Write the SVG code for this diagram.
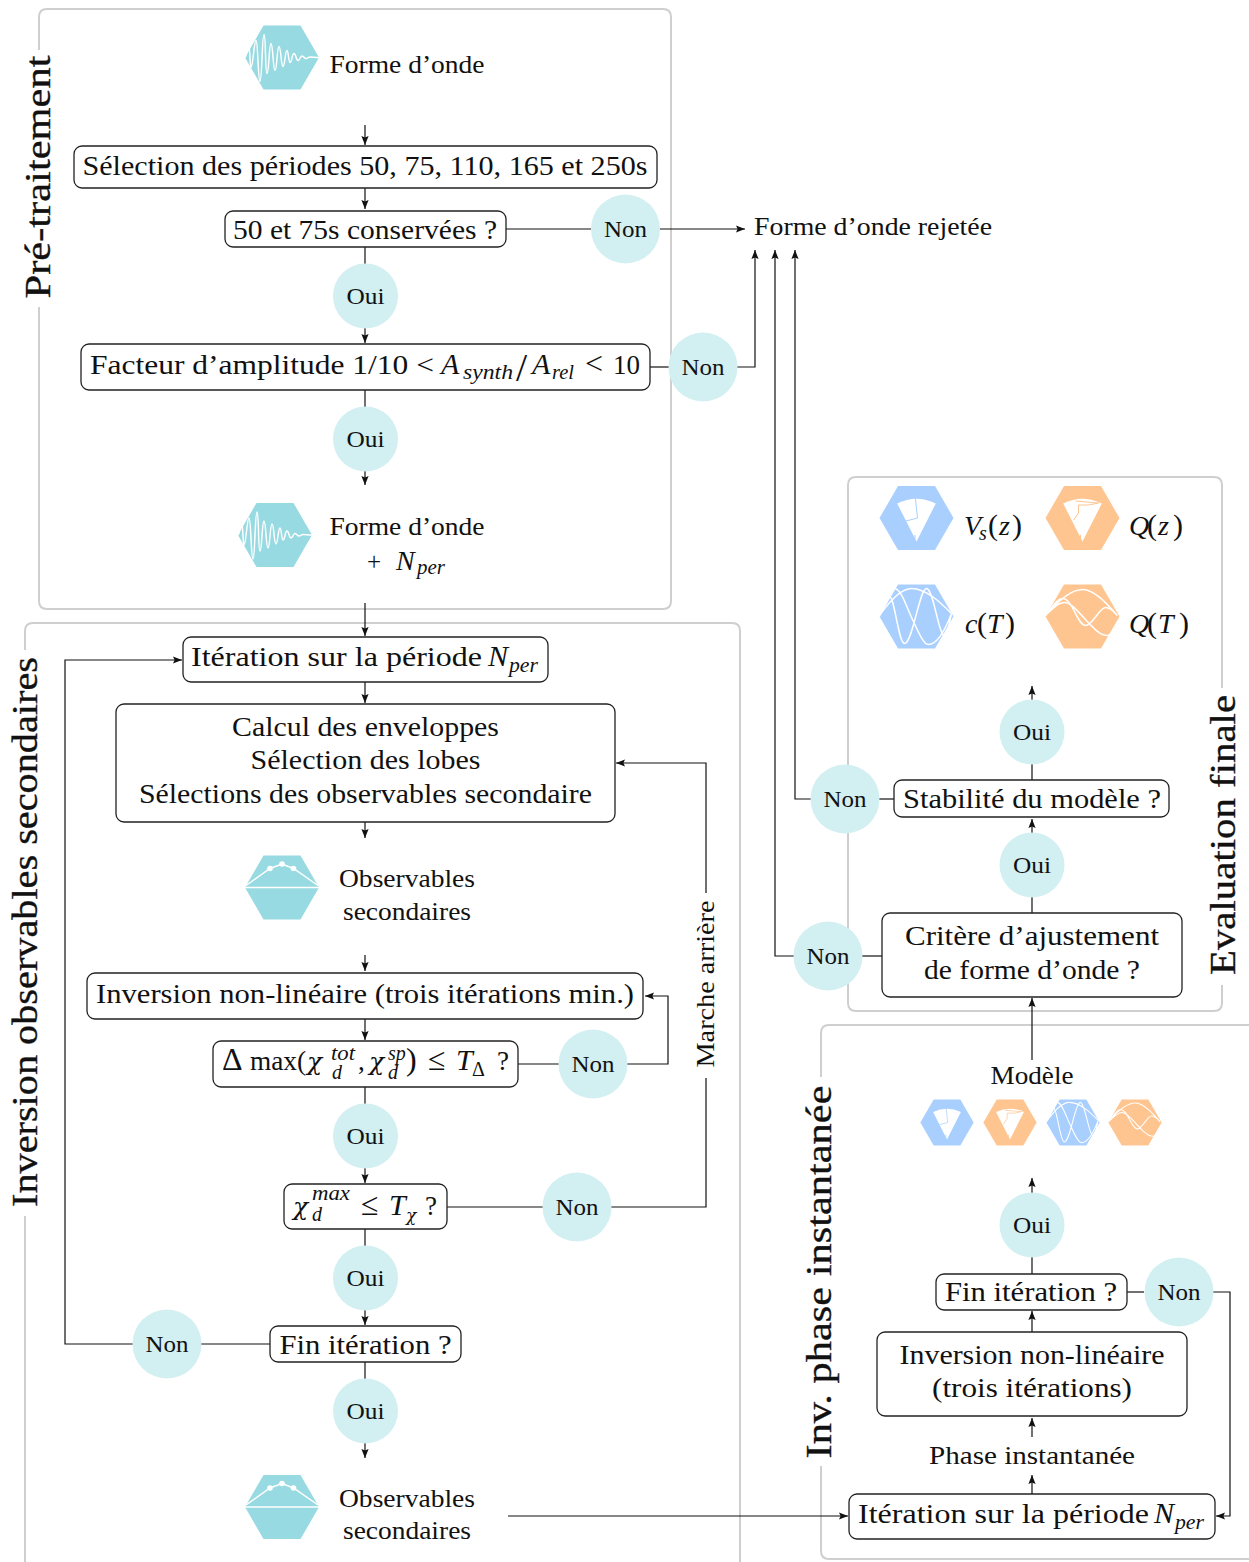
<svg xmlns="http://www.w3.org/2000/svg" width="1249" height="1562" viewBox="0 0 1249 1562">
<style>
text{font-family:"Liberation Serif","Times New Roman",serif;fill:#111;text-anchor:middle}
.t{font-size:27px}.m{font-size:25px}.s{font-size:24px}.l{font-size:35px;stroke:#111;stroke-width:.35}.r{font-size:25px}
.i{font-style:italic;font-size:30px}.sb{font-size:20px;font-style:italic}.rel{font-size:32px}
.chi{font-family:"DejaVu Serif",serif;font-style:italic;font-size:25px}
.st{text-anchor:start}
.panel{fill:none;stroke:#cfcfcf;stroke-width:2}
.box{fill:#fff;stroke:#222;stroke-width:1.3}
.c{fill:#d2eff2}
.ln{fill:none;stroke:#111;stroke-width:1.2}
.ar{marker-end:url(#ah)}
.w{fill:none;stroke:#fff;stroke-width:1.500}
.wf{fill:#fff}
</style>
<defs>
<marker id="ah" markerUnits="userSpaceOnUse" markerWidth="10" markerHeight="8" refX="9" refY="4" orient="auto"><path d="M0,.4 L9,4 L0,7.600 L1.600,4 Z" fill="#111"/></marker>
<polygon id="hex" points="-37,0 -18.5,-32 18.5,-32 37,0 18.5,32 -18.5,32"/>
<g id="iw"><use href="#hex" fill="#97dae1"/><path class="w" d="M-37,0 C-35,-3 -34,-12 -33,-10 C-32,-8 -32,10 -31,10 C-29,10 -28,-17 -26,-17 C-24,-17 -24,24 -22,24 C-20,24 -20,-23 -18,-23 C-16,-23 -17,16 -15,16 C-13,16 -13,-14 -11,-14 C-9,-14 -9,13 -7,13 C-5,13 -5,-11 -3,-11 C-1,-11 -1,9 1,9 C3,9 3,-7 5,-7 C6.500,-7 6.500,5 8,5 C10,5 10,-4 12,-4 C14,-4 14,3 16,3 C18,3 18,-1.500 20,-1.500 C22,-1.500 22,1 24,1 C26,1 26,-.5 28,-.5 C31,-.5 33,0 37,0"/></g>
<g id="io"><use href="#hex" fill="#97dae1"/><path class="w" d="M-37,0 H37 M-36,-2 L-12,-19 L0,-23.500 L11.500,-19 L36,-2"/><circle class="wf" cx="-12" cy="-19" r="2.800"/><circle class="wf" cx="0" cy="-23.500" r="2.800"/><circle class="wf" cx="11.500" cy="-19" r="2.800"/></g>
<g id="fb"><use href="#hex" fill="#a9cfff"/><path class="wf" d="M0,23.500 L-19.300,-14.500 Q0,-24 19.300,-14.500 Z"/><path d="M-1,-19 L1,0 L-10.500,3 M-1.500,17 V21" fill="none" stroke="#a9cfff" stroke-width="1"/></g>
<g id="fo"><use href="#hex" fill="#ffc591"/><path class="wf" d="M0,23.500 L-19.300,-14.500 Q0,-24 19.300,-14.500 Z"/><path d="M-7,-17 L16,-15 L6,-13 L-4,-13 L-4,-5 L-9,2 M-2,17 V21" fill="none" stroke="#ffc591" stroke-width="1"/></g>
<g id="cb"><use href="#hex" fill="#a9cfff"/><path class="w" d="M-37,-1 C-25,-18 -15,-28 -5,-28 C10,-28 25,-13 35,-3 M-37,0 C-33,-10 -30,-20 -27,-20 C-22,-20 -18,27 -12,27 C-4,27 3,-28 10,-28 C17,-28 22,19 28,19 C31,19 33,5 35,-3 M-37,0 C-32,-18 -27,-28 -22,-28 C-15,-28 -9,-6 -3,5 C2,16 7,28 12,28 C22,28 30,10 35,-3"/></g>
<g id="co"><use href="#hex" fill="#ffc591"/><path class="w" d="M-37,-1 C-25,-15 -12,-27 0,-27 C12,-27 25,-12 35,-1 M-37,-1 C-30,-10 -25,-18 -20,-18 C-10,-18 -5,9 3,9 C10,9 17,-9 23,-9 C28,-9 32,-4 35,-1 M-37,-1 C-30,-8 -24,-14 -18,-14 C-6,-14 10,19 25,19 C30,19 33,12 35,7"/></g>
</defs>

<g id="panels">
<path class="panel" d="M39,50 V17 Q39,9 47,9 H663 Q671,9 671,17 V601 Q671,609 663,609 H47 Q39,609 39,601 V307"/>
<path class="panel" d="M25,650 V631 Q25,623 33,623 H732 Q740,623 740,631 V1562 M25,1562 V1216"/>
<path class="panel" d="M1222,985 V1003 Q1222,1011 1214,1011 H856 Q848,1011 848,1003 V485 Q848,477 856,477 H1214 Q1222,477 1222,485 V688"/>
<path class="panel" d="M821,1077 V1033 Q821,1025 829,1025 H1249 M1249,1559 H829 Q821,1559 821,1551 V1466"/>
<text class="l" transform="translate(50,177) rotate(-90)" textLength="243" lengthAdjust="spacingAndGlyphs">Pré-traitement</text>
<text class="l" transform="translate(37,932) rotate(-90)" textLength="550" lengthAdjust="spacingAndGlyphs">Inversion observables secondaires</text>
<text class="l" transform="translate(1235,835) rotate(-90)" textLength="280" lengthAdjust="spacingAndGlyphs">Evaluation finale</text>
<text class="l" transform="translate(831,1272) rotate(-90)" textLength="373" lengthAdjust="spacingAndGlyphs">Inv. phase instantanée</text>
</g>

<g id="connectors">
<path class="ln ar" d="M365,125 V145"/>
<path class="ln ar" d="M365,188 V209"/>
<path class="ln" d="M506,229 H591"/>
<path class="ln ar" d="M660,229 H745"/>
<path class="ln" d="M365,247 V264"/>
<path class="ln ar" d="M365,328 V343"/>
<path class="ln" d="M650,367 H669"/>
<path class="ln ar" d="M737,367 H755 V250"/>
<path class="ln" d="M365,390 V407"/>
<path class="ln ar" d="M365,471 V485"/>
<path class="ln ar" d="M365,603 V636"/>
<path class="ln ar" d="M133,1344 H65 V660 H182"/>
<path class="ln ar" d="M365,682 V703"/>
<path class="ln ar" d="M365,822 V838"/>
<path class="ln ar" d="M365,955 V971"/>
<path class="ln ar" d="M365,1019 V1040"/>
<path class="ln" d="M518,1064 H559"/>
<path class="ln ar" d="M627,1064 H668 V996 H645"/>
<path class="ln" d="M365,1087 V1104"/>
<path class="ln ar" d="M365,1168 V1183"/>
<path class="ln" d="M447,1207 H543"/>
<path class="ln" d="M611,1207 H706 V1078"/>
<path class="ln ar" d="M706,893 V763 H616"/>
<path class="ln" d="M365,1229 V1246"/>
<path class="ln ar" d="M365,1310 V1325"/>
<path class="ln" d="M270,1344 H201"/>
<path class="ln" d="M365,1362 V1379"/>
<path class="ln ar" d="M365,1443 V1458"/>
<path class="ln ar" d="M508,1516 H848"/>
<path class="ln ar" d="M1032,1494 V1475"/>
<path class="ln ar" d="M1032,1437 V1418"/>
<path class="ln ar" d="M1032,1332 V1311"/>
<path class="ln" d="M1127,1292 H1144"/>
<path class="ln ar" d="M1213,1292 H1230 V1516 H1216"/>
<path class="ln" d="M1032,1274 V1257"/>
<path class="ln ar" d="M1032,1193 V1178"/>
<path class="ln ar" d="M1032,1060 V998"/>
<path class="ln" d="M882,956 H862"/>
<path class="ln ar" d="M794,956 H775 V250"/>
<path class="ln" d="M1032,913 V897"/>
<path class="ln ar" d="M1032,833 V819"/>
<path class="ln" d="M894,799 H879"/>
<path class="ln ar" d="M811,799 H795 V250"/>
<path class="ln" d="M1032,780 V764"/>
<path class="ln ar" d="M1032,700 V686"/>
</g>

<g id="n-wave1"><use href="#iw" x="282" y="57.500"/><text class="m" x="407" y="73" textLength="155" lengthAdjust="spacingAndGlyphs">Forme d’onde</text></g>
<g id="n-select"><rect class="box" x="74" y="146" width="583" height="42" rx="8"/><text class="t" x="365" y="175" textLength="565" lengthAdjust="spacingAndGlyphs">Sélection des périodes 50, 75, 110, 165 et 250s</text></g>
<g id="n-cons"><rect class="box" x="225" y="211" width="281" height="36" rx="8"/><text class="t" x="365" y="239" textLength="264" lengthAdjust="spacingAndGlyphs">50 et 75s conservées ?</text></g>
<g id="n-non1"><circle class="c" cx="625.500" cy="229" r="34.500"/><text class="s" x="625.500" y="237" textLength="43" lengthAdjust="spacingAndGlyphs">Non</text></g>
<g id="n-rej"><text class="m" x="873" y="235" textLength="238" lengthAdjust="spacingAndGlyphs">Forme d’onde rejetée</text></g>
<g id="n-oui1"><circle class="c" cx="365.500" cy="296" r="32.500"/><text class="s" x="365.500" y="304" textLength="38" lengthAdjust="spacingAndGlyphs">Oui</text></g>
<g id="n-fact"><rect class="box" x="81" y="344" width="569" height="46" rx="8"/><text class="t st" y="374"><tspan x="90" textLength="344" lengthAdjust="spacingAndGlyphs">Facteur d’amplitude 1/10 &lt;</tspan><tspan x="441" class="i">A</tspan><tspan x="463" y="379" class="sb" textLength="50" lengthAdjust="spacingAndGlyphs">synth</tspan><tspan x="516" y="381" style="font-size:40px">/</tspan><tspan x="532" y="374" class="i">A</tspan><tspan x="552" y="379" class="sb" textLength="22" lengthAdjust="spacingAndGlyphs">rel</tspan><tspan x="585" y="374" class="rel">&lt;</tspan><tspan x="613">10</tspan></text></g>
<g id="n-non2"><circle class="c" cx="703" cy="367" r="34.500"/><text class="s" x="703" y="375" textLength="43" lengthAdjust="spacingAndGlyphs">Non</text></g>
<g id="n-oui2"><circle class="c" cx="365.500" cy="439" r="32.500"/><text class="s" x="365.500" y="447" textLength="38" lengthAdjust="spacingAndGlyphs">Oui</text></g>
<g id="n-wave2"><use href="#iw" x="275" y="535"/><text class="m" x="407" y="535" textLength="155" lengthAdjust="spacingAndGlyphs">Forme d’onde</text><text class="m st" y="570"><tspan x="367">+</tspan><tspan x="396" class="i" style="font-size:28px">N</tspan><tspan x="417" y="574" class="sb" textLength="28" lengthAdjust="spacingAndGlyphs">per</tspan></text></g>
<g id="n-iter"><rect class="box" x="183" y="637" width="365" height="45" rx="8"/><text class="t st" y="666"><tspan x="191" textLength="291" lengthAdjust="spacingAndGlyphs">Itération sur la période</tspan><tspan x="488" class="i">N</tspan><tspan x="509" y="672" class="sb" textLength="29" lengthAdjust="spacingAndGlyphs">per</tspan></text></g>
<g id="n-calc"><rect class="box" x="116" y="704" width="499" height="118" rx="8"/><text class="t" x="365.500" y="736" textLength="267" lengthAdjust="spacingAndGlyphs">Calcul des enveloppes</text><text class="t" x="365.500" y="769" textLength="230" lengthAdjust="spacingAndGlyphs">Sélection des lobes</text><text class="t" x="365.500" y="803" textLength="453" lengthAdjust="spacingAndGlyphs">Sélections des observables secondaire</text></g>
<g id="n-obs1"><use href="#io" x="282" y="887.500"/><text class="m" x="407" y="887" textLength="136" lengthAdjust="spacingAndGlyphs">Observables</text><text class="m" x="407" y="920" textLength="128" lengthAdjust="spacingAndGlyphs">secondaires</text></g>
<g id="n-inv"><rect class="box" x="87" y="973" width="556" height="46" rx="8"/><text class="t" x="365" y="1003" textLength="538" lengthAdjust="spacingAndGlyphs">Inversion non-linéaire (trois itérations min.)</text></g>
<g id="n-delta"><rect class="box" x="213" y="1041" width="305" height="46" rx="8"/><text class="t st" y="1070"><tspan x="222" class="rel">Δ</tspan><tspan x="250" textLength="56" lengthAdjust="spacingAndGlyphs">max(</tspan><tspan x="307" class="chi">χ</tspan><tspan x="331" y="1060" class="sb" textLength="24" lengthAdjust="spacingAndGlyphs">tot</tspan><tspan x="332" y="1079" class="sb">d</tspan><tspan x="358" y="1070">,</tspan><tspan x="369" class="chi">χ</tspan><tspan x="388" y="1060" class="sb">sp</tspan><tspan x="388" y="1079" class="sb">d</tspan><tspan x="406" y="1070" class="rel">)</tspan><tspan x="428" class="rel">≤</tspan><tspan x="456" class="i">T</tspan><tspan x="472" y="1076" style="font-size:20px">Δ</tspan><tspan x="497" y="1070">?</tspan></text></g>
<g id="n-non3"><circle class="c" cx="593" cy="1064" r="34.500"/><text class="s" x="593" y="1072" textLength="43" lengthAdjust="spacingAndGlyphs">Non</text></g>
<g id="n-oui3"><circle class="c" cx="365.500" cy="1136" r="32.500"/><text class="s" x="365.500" y="1144" textLength="38" lengthAdjust="spacingAndGlyphs">Oui</text></g>
<g id="n-chi"><rect class="box" x="284" y="1184" width="163" height="45" rx="8"/><text class="t st" y="1215"><tspan x="293" class="chi">χ</tspan><tspan x="312" y="1200" class="sb" textLength="38" lengthAdjust="spacingAndGlyphs">max</tspan><tspan x="312" y="1221" class="sb">d</tspan><tspan x="361" y="1215" class="rel">≤</tspan><tspan x="389" class="i">T</tspan><tspan x="406" y="1221" class="chi" style="font-size:17px">χ</tspan><tspan x="425" y="1215">?</tspan></text></g>
<g id="n-non4"><circle class="c" cx="577" cy="1207" r="34.500"/><text class="s" x="577" y="1215" textLength="43" lengthAdjust="spacingAndGlyphs">Non</text></g>
<g id="n-marche"><text class="r" transform="translate(714,984) rotate(-90)" textLength="167" lengthAdjust="spacingAndGlyphs">Marche arrière</text></g>
<g id="n-oui4"><circle class="c" cx="365.500" cy="1278" r="32.500"/><text class="s" x="365.500" y="1286" textLength="38" lengthAdjust="spacingAndGlyphs">Oui</text></g>
<g id="n-fin1"><rect class="box" x="270" y="1326" width="191" height="36" rx="8"/><text class="t" x="365.500" y="1354" textLength="172" lengthAdjust="spacingAndGlyphs">Fin itération ?</text></g>
<g id="n-non5"><circle class="c" cx="167" cy="1344" r="34.500"/><text class="s" x="167" y="1352" textLength="43" lengthAdjust="spacingAndGlyphs">Non</text></g>
<g id="n-oui5"><circle class="c" cx="365.500" cy="1411" r="32.500"/><text class="s" x="365.500" y="1419" textLength="38" lengthAdjust="spacingAndGlyphs">Oui</text></g>
<g id="n-obs2"><use href="#io" x="282" y="1507"/><text class="m" x="407" y="1507" textLength="136" lengthAdjust="spacingAndGlyphs">Observables</text><text class="m" x="407" y="1539" textLength="128" lengthAdjust="spacingAndGlyphs">secondaires</text></g>
<g id="n-iter2"><rect class="box" x="849" y="1494" width="366" height="45" rx="8"/><text class="t st" y="1523"><tspan x="858" textLength="291" lengthAdjust="spacingAndGlyphs">Itération sur la période</tspan><tspan x="1154" class="i">N</tspan><tspan x="1175" y="1529" class="sb" textLength="29" lengthAdjust="spacingAndGlyphs">per</tspan></text></g>
<g id="n-phase"><text class="m" x="1032" y="1464" textLength="206" lengthAdjust="spacingAndGlyphs">Phase instantanée</text></g>
<g id="n-inv2"><rect class="box" x="877" y="1332" width="310" height="84" rx="8"/><text class="t" x="1032" y="1364" textLength="265" lengthAdjust="spacingAndGlyphs">Inversion non-linéaire</text><text class="t" x="1032" y="1397" textLength="200" lengthAdjust="spacingAndGlyphs">(trois itérations)</text></g>
<g id="n-fin2"><rect class="box" x="936" y="1274" width="191" height="36" rx="8"/><text class="t" x="1031" y="1301" textLength="172" lengthAdjust="spacingAndGlyphs">Fin itération ?</text></g>
<g id="n-non6"><circle class="c" cx="1179" cy="1292" r="34.500"/><text class="s" x="1179" y="1300" textLength="43" lengthAdjust="spacingAndGlyphs">Non</text></g>
<g id="n-oui6"><circle class="c" cx="1032" cy="1225" r="32.500"/><text class="s" x="1032" y="1233" textLength="38" lengthAdjust="spacingAndGlyphs">Oui</text></g>
<g id="n-modele"><text class="m" x="1032" y="1084" textLength="83" lengthAdjust="spacingAndGlyphs">Modèle</text>
<use href="#fb" transform="translate(947,1122.500) scale(.72)"/><use href="#fo" transform="translate(1010,1122.500) scale(.72)"/><use href="#cb" transform="translate(1073,1122.500) scale(.72)"/><use href="#co" transform="translate(1135,1122.500) scale(.72)"/></g>
<g id="n-crit"><rect class="box" x="882" y="913" width="300" height="84" rx="8"/><text class="t" x="1032" y="945" textLength="254" lengthAdjust="spacingAndGlyphs">Critère d’ajustement</text><text class="t" x="1032" y="979" textLength="216" lengthAdjust="spacingAndGlyphs">de forme d’onde ?</text></g>
<g id="n-non7"><circle class="c" cx="828" cy="956" r="34.500"/><text class="s" x="828" y="964" textLength="43" lengthAdjust="spacingAndGlyphs">Non</text></g>
<g id="n-oui7"><circle class="c" cx="1032" cy="865" r="32.500"/><text class="s" x="1032" y="873" textLength="38" lengthAdjust="spacingAndGlyphs">Oui</text></g>
<g id="n-stab"><rect class="box" x="894" y="780" width="275" height="37" rx="8"/><text class="t" x="1032" y="808" textLength="258" lengthAdjust="spacingAndGlyphs">Stabilité du modèle ?</text></g>
<g id="n-non8"><circle class="c" cx="845" cy="799" r="34.500"/><text class="s" x="845" y="807" textLength="43" lengthAdjust="spacingAndGlyphs">Non</text></g>
<g id="n-oui8"><circle class="c" cx="1032" cy="732" r="32.500"/><text class="s" x="1032" y="740" textLength="38" lengthAdjust="spacingAndGlyphs">Oui</text></g>
<g id="n-vs"><use href="#fb" x="916.500" y="518"/><text class="t st" y="535"><tspan x="964" class="i" style="font-size:28px">V</tspan><tspan x="979" y="540" class="sb">s</tspan><tspan x="988" y="535" class="i" style="font-style:normal">(</tspan><tspan x="999" class="i" style="font-size:28px">z</tspan><tspan x="1012" class="i" style="font-style:normal">)</tspan></text></g>
<g id="n-qz"><use href="#fo" x="1082.500" y="518"/><text class="t st" y="535"><tspan x="1129" class="i" style="font-size:28px">Q</tspan><tspan x="1147" class="i" style="font-style:normal">(</tspan><tspan x="1158" class="i" style="font-size:28px">z</tspan><tspan x="1173" class="i" style="font-style:normal">)</tspan></text></g>
<g id="n-ct"><use href="#cb" x="916.500" y="616.500"/><text class="t st" y="633"><tspan x="965" class="i" style="font-size:28px">c</tspan><tspan x="977" class="i" style="font-style:normal">(</tspan><tspan x="987" class="i" style="font-size:28px">T</tspan><tspan x="1005" class="i" style="font-style:normal">)</tspan></text></g>
<g id="n-qt"><use href="#co" x="1082.500" y="616.500"/><text class="t st" y="633"><tspan x="1129" class="i" style="font-size:28px">Q</tspan><tspan x="1147" class="i" style="font-style:normal">(</tspan><tspan x="1158" class="i" style="font-size:28px">T</tspan><tspan x="1179" class="i" style="font-style:normal">)</tspan></text></g>
</svg>
